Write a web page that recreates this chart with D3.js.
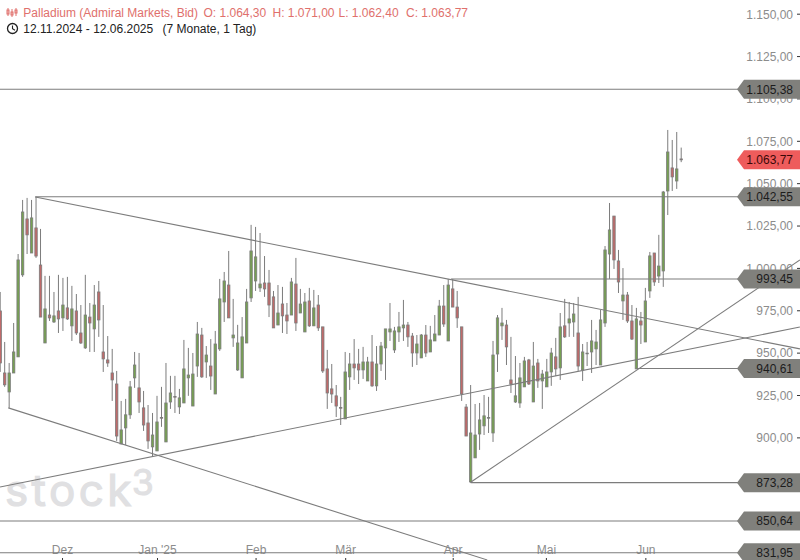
<!DOCTYPE html>
<html><head><meta charset="utf-8">
<script src="https://cdn.jsdelivr.net/npm/d3@7"></script>
<style>html,body{margin:0;padding:0;background:#fff;overflow:hidden}svg{display:block}text{font-family:"Liberation Sans",Arial,sans-serif}</style>
</head><body><svg id="c" width="800" height="560"></svg>
<script>
const opens=[974.6,938,926.8,938,947.5,995.9,1028.9,1008.8,1023.6,1001.7,955.7,972.2,968.1,974.6,970.5,976.4,965.8,974.6,961.6,952.8,971,964,985.8,950.4,945.7,938,931.5,896.1,905.6,913.3,935.1,929.2,917.4,908.5,894.4,892,911.7,897.3,920.9,924.1,918,920.3,935.1,918.5,942.1,960.4,944.5,942.1,925.6,952.2,979.9,989.9,958.7,939.8,935.1,955.7,982.3,992.3,988.2,991.1,991.1,982.9,966.3,978.7,972.2,972.2,990.5,973.4,962.2,980.5,965.8,978.1,965.2,940.4,928.6,924.5,917.6,910.9,935.7,943.3,943.3,939.8,933.3,944.5,930.4,943.3,952.8,962.2,951.6,962.2,964.6,966.3,959.8,949.8,946.9,960.4,950.4,956.9,960.4,977.5,956.9,987.6,976.9,965.2,917.9,873.7,887.9,902,906.8,911.3,902.6,949.2,965.8,966.3,933.9,920.9,920.3,929.8,945.7,920.9,943.9,933.3,929.8,938.6,947.5,941,965.8,967.5,968.1,961.6,939.8,949.3,950.4,952.2,942.7,967.5,1008.2,1030.6,1004.1,980.5,984,968.7,940.4,968.7,956.3,986.4,1008.8,995.2,998.2,1045.4,1059,1051.3,1064.3];
const highs=[985.8,956.3,943.9,967.5,1008.2,1040.1,1041.3,1040.1,1041.9,1023,995.3,995.3,985.8,995.9,994.1,994.7,989.4,984.6,978.1,995.9,979.3,989.9,992.3,978.1,959.8,952.2,939.2,921.5,922.7,933.3,950.4,949.8,927.4,919.1,914.4,924.5,929.8,943.9,936.3,936.3,928.6,957.5,952.8,949.8,968.1,964.6,953.9,958,962.8,993.5,997.6,1010,981.7,966.4,971,987.6,1025.4,1024.2,1020.6,1007,998.8,986.4,989.9,988.8,979.3,994.1,1005.9,987.6,985.2,988.2,987,984,965.2,951.6,943.3,930.9,923.9,950.4,949.8,958,952.2,953.4,947.5,960.4,953.9,956.3,964,979.3,965.2,974,981.1,968.1,961.6,960.4,961,966.3,965.8,972.2,981.1,989.9,993.5,993.5,986.4,965.2,919.7,930.9,919.7,920.3,925,923.9,956.9,972.2,976.4,969.3,959.3,948,943.9,947.5,946.3,956.3,946.3,939.8,946.3,952.8,958.7,973.4,981.7,979.9,979.3,982.9,955.1,956.3,969.3,963.4,975.2,1012.9,1038.3,1030.6,1010.6,999.9,985.8,978.1,976.4,974,988.2,1009.4,1008.8,1019.5,1045.4,1081.4,1075.5,1080.2,1071];
const lows=[938.6,929.8,917.4,938,947.5,994.7,1008.2,1008.8,1005.9,971,955.7,968.7,967.5,961.6,962.8,969.3,956.9,960.4,955.1,952.2,950.4,950.4,959.3,938.6,941.6,921.5,897.9,896.1,895.5,910.9,929.2,914.4,903.8,893.2,889,892,906.2,897.3,916.8,914.4,913.8,920.3,924.5,918.5,935.7,935.1,935.1,928,925.6,951,968.1,970.5,953.4,939.2,935.1,955.7,979.9,986.4,985.8,982.9,971,964.6,966.3,961.6,961,972.2,962.8,973.4,962.2,965.2,965.8,962.8,938,916.8,920.3,912,907.3,910.9,928,933.9,931.5,934.5,933.3,929.8,927.4,939.2,933.9,956.9,949.8,956.3,956.9,953.4,941.6,942.7,946.9,947.5,950.4,956.9,960.4,965.2,956.9,976.9,964.6,921.5,900.8,873.3,887.9,892.6,901.4,902.6,897.3,938.6,957.5,942.7,926.2,920.3,917.4,929.8,930.9,920.9,929.2,916.8,929.8,930.4,936.2,933.9,958.7,959.3,959.3,939.2,933.3,942.1,938,942.7,942.7,965.2,993.5,999.4,985.2,969.3,967.5,957.5,940.4,955.1,956.3,982.3,989.4,991.1,988.8,1031.2,1045.4,1046.6,1062.4];
const closes=[943.9,931,938,950.4,1004.7,1033,1019.5,1029.5,1007,971,975.8,970.5,971.7,969.9,978.1,969.9,975.8,961.6,955.7,972.2,967.5,978.1,969.3,946.3,943.9,933.9,900.8,904.4,913.3,929.8,942.7,920.9,907.3,897.9,901.4,909.1,911.3,920.3,926.2,923.7,923.3,940.4,936.8,937.4,961,935.7,948.6,936.2,955.1,981.7,992.3,970.5,960.4,955.7,959.3,979.9,1010,1006.5,990.5,987.6,978.1,964.6,973.4,971.7,968.7,991.7,967.5,978.7,979.9,965.8,976.4,964.6,939.2,926.2,925.6,918.5,917.2,938.6,943.3,941,939.8,944.5,944.5,930.4,943.3,953.9,964,964,962.8,965.2,966.3,959.3,949.8,955.1,960.4,949.8,957.5,961,977.5,966.9,989.9,976.9,970.5,925.6,900.8,902.6,901.4,910.3,912.7,911.7,948.6,970.5,967.5,953.4,931.5,924.5,935.1,945.1,931.5,942.1,933.3,937.4,938.6,949.8,940.4,965.2,959.3,969.9,972.8,942.1,950.4,949.7,956.9,956.3,969.3,1010.6,1022.4,1004.7,991.7,984,968.7,958,969.9,966.3,980.5,1007.1,991.7,1001.1,1044.8,1068.4,1053.7,1058.4,1063.77];

const priceTicks=[1150,1125,1100,1075,1050,1025,1000,975,950,925,900];
const priceTickLabels=["1.150,00","1.125,00","1.100,00","1.075,00","1.050,00","1.025,00","1.000,00","975,00","950,00","925,00","900,00"];
const monthIdx=[13.8,35,57,77,101,121.8,144];
const monthLabels=["Dez","Jan '25","Feb","Mär","Apr","Mai","Jun"];
const levelValues=[1105.38,1042,993.45,940.61,873.28,850.64,831.95];
const levelLabels=["1.105,38","1.042,55","993,45","940,61","873,28","850,64","831,95"];
const levelStart=[-1,7.83,100.6,142,105,-1,-1];
const lastPrice=1063.77, lastLabel="1.063,77";
const trendStart=[[7.83,1041.8],[1.81,917.4],[-0.04,870.7],[105,873.5]];
const trendEnd=[[178.5,952.2],[108.7,827.7],[178.5,965.1],[178.5,1004.7]];

const svg=d3.select("#c");
const x=d3.scaleLinear().domain([0,152]).range([0.2,681.2]);
const y=d3.scaleLinear().domain([831.95,1150]).range([552.7,13.7]);
const GREEN="#76a052",RED="#bf6a6a",GREY="#7c7c7c",TAG="#80807c",AX="#8c8c8c";

// watermark
const wm=svg.append("g").attr("fill","#e0e0e2").attr("stroke","#e0e0e2").attr("stroke-width",1.2);
wm.append("text").attr("x",5).attr("y",506).attr("font-size",44).attr("letter-spacing",3.4).style("font-family","Inter").style("font-weight",400).text("stock");
wm.append("text").attr("x",132).attr("y",495).attr("font-size",35).style("font-family","Inter").style("font-weight",400).text("3");

// y tick labels and ticks
const gy=svg.append("g").call(
  d3.axisRight(y).tickValues(priceTicks).tickSize(3).tickFormat((d,i)=>priceTickLabels[i])
).attr("transform","translate(797,0)");
gy.select(".domain").remove();
gy.selectAll("line").attr("stroke","#333");
gy.selectAll("text").attr("x",-4).attr("text-anchor","end").attr("fill",AX).attr("font-size",12).attr("dy","0.36em").style("font-family",'"Liberation Sans"');

// x axis
const gx=svg.append("g").attr("transform","translate(0,558)").call(
  d3.axisBottom(x).tickValues(monthIdx).tickSize(3).tickFormat((d,i)=>monthLabels[i])
);
gx.select(".domain").remove();
gx.selectAll("line").attr("stroke","#333");
gx.selectAll("text").attr("y",-4).attr("dy",0).attr("fill",AX).attr("font-size",12).style("font-family",'"Liberation Sans"');

// candles
const idx=d3.range(opens.length);
const c=svg.append("g");
c.selectAll("line").data(idx).join("line")
  .attr("x1",i=>x(i)).attr("x2",i=>x(i))
  .attr("y1",i=>y(highs[i])).attr("y2",i=>y(lows[i]))
  .attr("stroke",GREY).attr("stroke-width",1);
c.selectAll("rect").data(idx).join("rect")
  .attr("x",i=>x(i)-1.2).attr("width",2.4)
  .attr("y",i=>y(Math.max(opens[i],closes[i])))
  .attr("height",i=>Math.abs(y(opens[i])-y(closes[i])))
  .attr("fill",i=>closes[i]>=opens[i]?GREEN:RED)
  .attr("stroke",GREY).attr("stroke-width",0.8);

// trend lines
svg.append("g").selectAll("line").data(d3.range(trendStart.length)).join("line")
  .attr("x1",i=>x(trendStart[i][0])).attr("y1",i=>y(trendStart[i][1]))
  .attr("x2",i=>x(trendEnd[i][0])).attr("y2",i=>y(trendEnd[i][1]))
  .attr("stroke",GREY).attr("stroke-width",1.1);

// horizontal levels + tags
const lv=svg.append("g");
lv.selectAll("line").data(d3.range(levelValues.length)).join("line")
  .attr("x1",i=>x(levelStart[i])).attr("x2",738)
  .attr("y1",i=>y(levelValues[i])).attr("y2",i=>y(levelValues[i]))
  .attr("stroke",GREY).attr("stroke-width",1.1);
function tag(yy,fill,label,col){
  svg.append("path").attr("fill",fill)
    .attr("d",`M737,${yy} L744,${yy-9.5} L800,${yy-9.5} L800,${yy+9.5} L744,${yy+9.5} Z`);
  svg.append("text").attr("x",793).attr("y",yy+4.3).attr("text-anchor","end")
    .attr("font-size",12).attr("fill",col).text(label);
}
levelValues.forEach((v,i)=>tag(y(v),TAG,levelLabels[i],"#1c1c1c"));
tag(y(lastPrice),"#ee5c5c",lastLabel,"#3a0808");

// header
const hc="#e0706c";
const h=svg.append("g");
[["Palladium (Admiral Markets, Bid)",23.3],["O: 1.064,30",203.5],["H: 1.071,00",272.5],["L: 1.062,40",338.5],["C: 1.063,77",406]].forEach(d=>
  h.append("text").attr("x",d[1]).attr("y",17).attr("font-size",12).attr("fill",hc).text(d[0]));
h.append("text").attr("x",23.3).attr("y",33).attr("font-size",12).attr("fill","#222").text("12.11.2024 - 12.06.2025");
h.append("text").attr("x",162.5).attr("y",33).attr("font-size",12).attr("fill","#222").text("(7 Monate, 1 Tag)");
[[8,8,16,10,14],[12,9,17,12,15],[16,8,16,10,13]].forEach(d=>{
  h.append("line").attr("x1",d[0]).attr("x2",d[0]).attr("y1",d[1]).attr("y2",d[2]).attr("stroke",hc);
  h.append("rect").attr("x",d[0]-1).attr("y",d[3]).attr("width",2).attr("height",d[4]-d[3]).attr("fill","none").attr("stroke",hc);
});
h.append("circle").attr("cx",12.5).attr("cy",28.5).attr("r",5).attr("fill","none").attr("stroke","#222").attr("stroke-width",1.3);
h.append("path").attr("d","M12.5,25.5 V28.8 L15,30.3").attr("fill","none").attr("stroke","#222").attr("stroke-width",1.1);
</script></body></html>
